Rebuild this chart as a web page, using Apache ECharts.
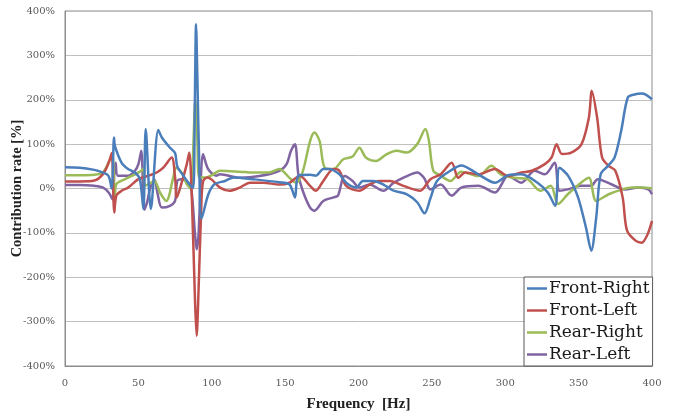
<!DOCTYPE html>
<html>
<head>
<meta charset="utf-8">
<script src="https://cdn.jsdelivr.net/npm/echarts@6/dist/echarts.min.js"></script>
<style>
  html, body { margin: 0; padding: 0; background: #fff; }
  #main { width: 675px; height: 412px; }
</style>
</head>
<body>
<div id="main"></div>
<script>
// values: frequency [Hz] and contribution rate [%]
var frontRightHz  = [0, 10, 20, 24, 29.5, 31.8, 33.4, 34, 38.6, 43, 47.7, 51, 53.4, 55, 58.5, 63.6, 66, 71.5, 75, 76.5, 80.6, 84, 86, 87.5, 88.5, 89.3, 90.2, 91.5, 93, 97.7, 102, 109, 115, 128, 146, 153, 156.7, 159, 167, 171, 176, 180, 187, 191.6, 198.4, 203, 210, 217, 224, 233, 240, 245, 249, 253.5, 262.6, 270, 281.6, 293, 302, 311, 322, 329, 334, 337, 343, 349.6, 355, 358.6, 362, 365, 370, 374.5, 379, 383.5, 388, 393, 396, 400];
var frontRightPct = [48, 47, 42, 38, 29, 0, 115, 96, 58, 44, 36, 21, -46, 134, -46, 132, 115, 92, 80, 50, 29, 13, 5, 2, 200, 370, 250, 50, -68, -13, 10, 17, 25, 21, 14, 9, -20, 29, 31, 29, 44, 44, 32, 13, 2, 17, 17, 9, -5, -13, -31, -56, -22, 17, 40, 52, 32, 13, 30, 32, 13, -9, -39, 47, 28, -20, -88, -140, -65, 32, 51, 70, 130, 205, 212, 214, 211, 201];

var frontLeftHz  = [0, 10, 20, 26, 30, 31.8, 33.6, 35, 38.6, 43, 50, 58, 62.5, 67, 72.7, 75, 76.2, 79.5, 83, 84.7, 86.5, 88.6, 89.7, 91, 92.7, 94, 97, 100, 105.6, 112, 119, 126, 135, 146, 153, 160, 167, 171, 176, 183, 187, 191.6, 200.6, 207.5, 214, 221.5, 230.6, 242, 249, 256, 263.5, 268, 272.7, 281.6, 293, 302, 311, 318, 327, 331.6, 335, 338.5, 345, 352, 357, 359, 362.6, 366, 370.5, 375, 380, 383, 389, 393, 397, 400];
var frontLeftPct = [16, 16, 18, 33, 60, 80, -54, -16, -5, 2, 21, 30, 36, 47, 70, 25, -20, 13, 55, 81, -28, -253, -332, -230, -58, 15, 25, 20, 2, -5, 2, 13, 13, 9, 13, 29, 6, -5, 17, 44, 40, 6, -5, 9, 17, 17, 6, -5, 21, 32, 58, 24, 36, 32, 44, 28, 36, 40, 55, 70, 100, 78, 81, 100, 160, 220, 160, 70, 51, 40, -20, -95, -118, -122, -103, -73];

var rearRightHz  = [0, 10, 20, 26, 30.7, 32.3, 34, 35, 41, 47.7, 52, 53.5, 54.5, 58, 61, 64.7, 69, 73.8, 75.5, 79.5, 83, 86, 87.5, 88.8, 90.3, 91.5, 96.5, 101, 105.6, 119, 128, 139, 146, 153, 157.6, 162, 167, 170, 173.5, 177, 183, 189.6, 196, 200.6, 205, 212, 219, 226, 233, 240, 245.6, 248, 251, 256, 262.6, 270, 281.6, 290.6, 297, 306, 315, 324, 331, 336, 342.6, 351.6, 357, 362, 370.5, 380, 386.5, 393, 400];
var rearRightPct = [30, 30, 31, 37, 66, 76, -16, 10, 21, 32, 40, 45, 6, 12, 17, -9, -28, 25, 47, 36, 10, -1, 100, 200, 100, 25, 25, 32, 40, 38, 36, 36, 44, 24, 13, 38, 107, 126, 107, 47, 44, 66, 72, 92, 70, 62, 77, 85, 81, 100, 134, 107, 40, 29, 17, 38, 28, 51, 32, 24, 21, -5, 6, -35, -13, 13, 24, -28, -13, -2, 2, 2, 0];

var rearLeftHz  = [0, 10, 20, 26, 30, 32.5, 33.5, 34.5, 36, 43, 47.7, 50, 52, 54, 56, 58, 61, 63, 66, 71.5, 75, 76.5, 79.5, 84, 86, 88.6, 89.7, 91, 92.7, 94, 97.5, 103, 105.6, 119, 132.6, 146, 151, 154, 156.7, 159, 162, 167, 170, 176, 183, 186, 190.6, 196, 200.6, 207.5, 217, 224, 233, 240, 244.6, 249, 256, 263.5, 270, 281.6, 293, 302, 311, 320, 327, 333.6, 337, 342.6, 351.6, 358.5, 363, 372.6, 381.6, 390.6, 397.5, 400];
var rearLeftPct = [8, 8, 6, 2, -10, -25, 30, 58, 29, 29, 40, 55, 85, -48, -30, 0, 20, -10, -43, -39, -28, 17, 21, 13, 2, -103, -137, -103, 32, 77, 44, 29, 32, 24, 28, 40, 55, 85, 100, 32, -5, -43, -50, -28, -20, -16, 28, 17, 2, 9, -5, 13, 28, 36, 24, -2, 9, -16, 2, 6, -9, 28, 13, 40, 32, 58, -5, -2, 6, 6, 21, 9, -2, 2, -2, -13];

var seriesNames = ['Front-Right', 'Front-Left', 'Rear-Right', 'Rear-Left'];
var seriesColors = ['#4a7ebb', '#c0504d', '#9bbb59', '#8064a2'];
var yTicks = { min: -400, max: 400, step: 100 };
var xTicks = { min: 0, max: 400, step: 50 };

function pairs(hz, pct) {
  return hz.map(function (h, i) { return [h, pct[i]]; });
}

var allData = [
  pairs(frontRightHz, frontRightPct),
  pairs(frontLeftHz, frontLeftPct),
  pairs(rearRightHz, rearRightPct),
  pairs(rearLeftHz, rearLeftPct)
];

var chart = echarts.init(document.getElementById('main'), null, { renderer: 'canvas' });

var option = {
  animation: false,
  backgroundColor: '#fff',
  grid: {
    left: 65, right: 23, top: 11, bottom: 46,
    outerBoundsMode: 'none', containLabel: false,
    show: true, borderColor: '#8c8c8c', borderWidth: 1, backgroundColor: '#fff'
  },
  legend: {
    data: seriesNames,
    orient: 'vertical',
    left: 524, top: 277,
    padding: [3, 3, 3, 3],
    icon: 'rect',
    itemWidth: 20, itemHeight: 2.5, itemGap: 5,
    backgroundColor: '#fff',
    borderColor: '#595959', borderWidth: 1,
    textStyle: { fontFamily: 'DejaVu Serif', fontSize: 17, color: '#1a1a1a', lineHeight: 17, padding: [0, 0, 0, -3] }
  },
  xAxis: {
    type: 'value',
    min: xTicks.min, max: xTicks.max, interval: xTicks.step,
    name: 'Frequency  [Hz]',
    nameLocation: 'middle', nameGap: 31, nameMoveOverlap: false,
    nameTextStyle: { fontFamily: 'Liberation Serif', fontWeight: 'bold', fontSize: 15, color: '#222' },
    axisLine: { show: true, onZero: false, lineStyle: { color: '#8c8c8c' } },
    axisTick: { show: false },
    splitLine: { show: false },
    axisLabel: { margin: 12, fontFamily: 'DejaVu Serif', fontSize: 10, color: '#595959' }
  },
  yAxis: {
    type: 'value',
    min: yTicks.min, max: yTicks.max, interval: yTicks.step,
    name: 'Contribution rate [%]',
    nameLocation: 'middle', nameGap: 40, nameMoveOverlap: false,
    nameTextStyle: { fontFamily: 'Liberation Serif', fontWeight: 'bold', fontSize: 14.5, color: '#222' },
    axisLine: { show: true, lineStyle: { color: '#8c8c8c' } },
    axisTick: { show: false },
    splitLine: { show: true, lineStyle: { color: '#bfbfbf', width: 1 } },
    axisLabel: { margin: 10, fontFamily: 'DejaVu Serif', fontSize: 10, color: '#595959', formatter: '{value}%' }
  },
  series: seriesNames.map(function (name, i) {
    return {
      name: name,
      type: 'line',
      data: allData[i],
      smooth: 0.3,
      symbol: 'none',
      color: seriesColors[i],
      lineStyle: { width: 2.5, color: seriesColors[i] },
      z: 4 - i
    };
  })
};

chart.setOption(option);
</script>
</body>
</html>
